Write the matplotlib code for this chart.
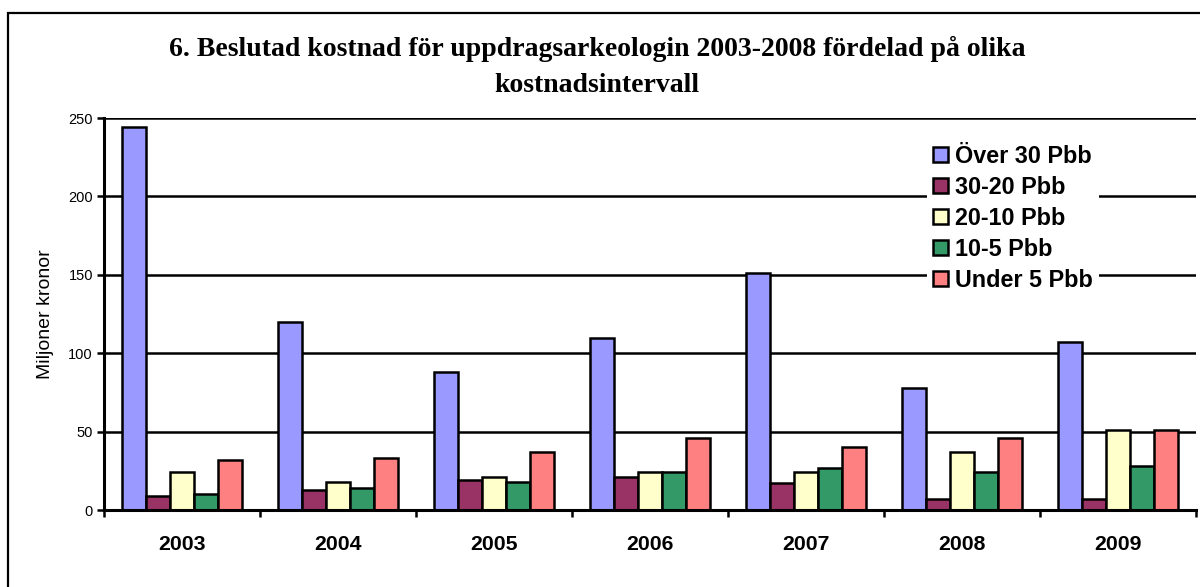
import matplotlib
matplotlib.use("Agg")
import matplotlib.pyplot as plt
import matplotlib.patches as mpatches
import numpy as np

years = ["2003", "2004", "2005", "2006", "2007", "2008", "2009"]
series_names = ["Över 30 Pbb", "30-20 Pbb", "20-10 Pbb", "10-5 Pbb", "Under 5 Pbb"]
over30 = [244, 120, 88, 110, 151, 78, 107]
s30_20 = [9, 13, 19, 21, 17, 7, 7]
s20_10 = [24, 18, 21, 24, 24, 37, 51]
s10_5 = [10, 14, 18, 24, 27, 24, 28]
under5 = [32, 33, 37, 46, 40, 46, 51]
colors = ["#9999FF", "#993366", "#FFFFCC", "#339966", "#FF8080"]
yticks = [0, 50, 100, 150, 200, 250]
title = "6. Beslutad kostnad för uppdragsarkeologin 2003-2008 fördelad på olika\nkostnadsintervall"
ylabel = "Miljoner kronor"

plt.rcParams['font.family'] = ['Liberation Sans', 'DejaVu Sans']

W, H = 1200, 587
fig = plt.figure(figsize=(W / 100, H / 100), dpi=100)
ax = fig.add_axes([104 / W, 1 - 510 / H, (1196 - 104) / W, (510 - 118) / H])

series = [over30, s30_20, s20_10, s10_5, under5]
x = np.arange(len(years))
bw = 0.154
lw = 1.8
for i, (vals, c, name) in enumerate(zip(series, colors, series_names)):
    ax.bar(x + (i - 2) * bw, vals, width=bw, color=c, edgecolor="black",
           linewidth=lw, label=name, zorder=3)

ax.set_xlim(-0.5, len(years) - 0.5)
ax.set_ylim(0, 250)
ax.set_yticks(yticks)
ax.set_yticklabels([str(v) for v in yticks], fontsize=10.5)
for v in yticks[1:]:
    ax.axhline(v, color="black", linewidth=lw, zorder=1)

ax.set_xticks(x)
ax.set_xticklabels(years, fontsize=15.3, fontweight="bold")
ax.tick_params(axis="x", which="major", length=0, pad=18)
ax.set_xticks(np.arange(-0.5, len(years)), minor=True)
ax.tick_params(axis="x", which="minor", length=5, width=lw, direction="out")
ax.tick_params(axis="y", length=5, width=lw, direction="out", pad=3)

for side in ["top", "right"]:
    ax.spines[side].set_visible(False)
for side in ["left", "bottom"]:
    ax.spines[side].set_linewidth(2.2)
    ax.spines[side].set_zorder(4)

ax.set_ylabel(ylabel, fontsize=14, labelpad=10)

leg = ax.legend(loc="upper left", bbox_to_anchor=(927 / W, 1 - 139 / H),
                bbox_transform=fig.transFigure, prop={"size": 16.8, "weight": "bold"},
                frameon=True, fancybox=False, framealpha=1, edgecolor="none",
                handlelength=0.65, handleheight=0.65, handletextpad=0.3,
                labelspacing=0.34, borderpad=0.25, borderaxespad=0)
leg.set_zorder(5)
for h in leg.legend_handles:
    h.set_linewidth(lw)

fig.text(597 / W, 1 - 67 / H, title, ha="center", va="center",
         fontsize=20, fontweight="bold", family="Liberation Serif", linespacing=1.62)

border = mpatches.Rectangle((8 / W, -0.1), 1.2, 1 - 12.5 / H + 0.1, transform=fig.transFigure,
                            fill=False, edgecolor="black", linewidth=1.6, clip_on=False)
fig.patches.append(border)

fig.savefig("out.png", dpi=100, facecolor="white")
